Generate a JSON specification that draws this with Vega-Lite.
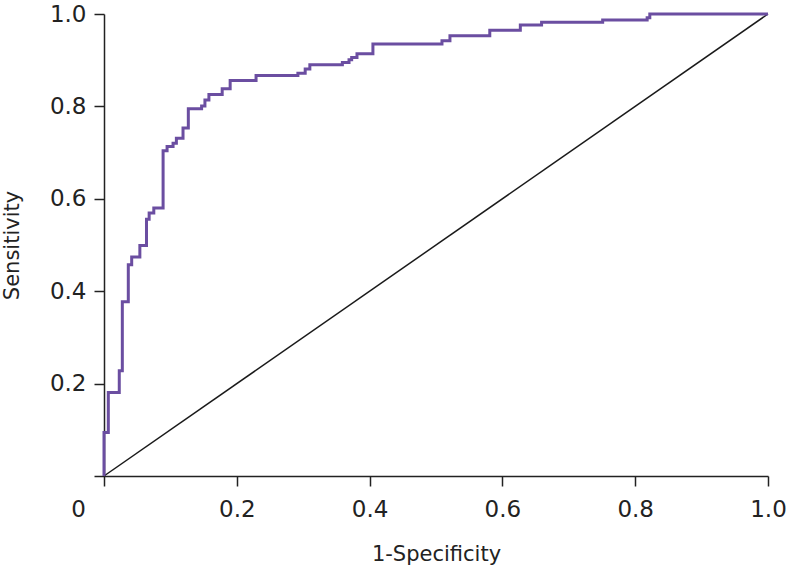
{
  "$schema": "https://vega.github.io/schema/vega-lite/v6.json",
  "autosize": "none",
  "padding": {"left": 104, "top": 14, "right": 20, "bottom": 95},
  "width": 664,
  "height": 462,
  "background": "white",
  "config": {
    "view": {"stroke": null},
    "axis": {
      "grid": false,
      "domainColor": "#222222",
      "domainWidth": 1.5,
      "tickColor": "#222222",
      "tickWidth": 1.5,
      "tickSize": 10,
      "labelFont": "DejaVu Sans",
      "labelFontSize": 23,
      "labelColor": "#222222",
      "titleFont": "DejaVu Sans",
      "titleFontSize": 21,
      "titleFontWeight": "normal",
      "titleColor": "#222222"
    }
  },
  "datasets": {
    "roc": [
      {"fpr": 0, "tpr": 0},
      {"fpr": 0, "tpr": 0.094},
      {"fpr": 0.0065, "tpr": 0.094},
      {"fpr": 0.0065, "tpr": 0.181},
      {"fpr": 0.023, "tpr": 0.181},
      {"fpr": 0.023, "tpr": 0.228},
      {"fpr": 0.0276, "tpr": 0.228},
      {"fpr": 0.0276, "tpr": 0.377},
      {"fpr": 0.0366, "tpr": 0.377},
      {"fpr": 0.0366, "tpr": 0.457},
      {"fpr": 0.0417, "tpr": 0.457},
      {"fpr": 0.0417, "tpr": 0.474},
      {"fpr": 0.054, "tpr": 0.474},
      {"fpr": 0.054, "tpr": 0.499},
      {"fpr": 0.064, "tpr": 0.499},
      {"fpr": 0.064, "tpr": 0.556},
      {"fpr": 0.068, "tpr": 0.556},
      {"fpr": 0.068, "tpr": 0.569},
      {"fpr": 0.075, "tpr": 0.569},
      {"fpr": 0.075, "tpr": 0.58},
      {"fpr": 0.089, "tpr": 0.58},
      {"fpr": 0.089, "tpr": 0.704},
      {"fpr": 0.095, "tpr": 0.704},
      {"fpr": 0.095, "tpr": 0.713},
      {"fpr": 0.104, "tpr": 0.713},
      {"fpr": 0.104, "tpr": 0.72},
      {"fpr": 0.109, "tpr": 0.72},
      {"fpr": 0.109, "tpr": 0.731},
      {"fpr": 0.119, "tpr": 0.731},
      {"fpr": 0.119, "tpr": 0.753},
      {"fpr": 0.127, "tpr": 0.753},
      {"fpr": 0.127, "tpr": 0.795},
      {"fpr": 0.147, "tpr": 0.795},
      {"fpr": 0.147, "tpr": 0.801},
      {"fpr": 0.152, "tpr": 0.801},
      {"fpr": 0.152, "tpr": 0.814},
      {"fpr": 0.158, "tpr": 0.814},
      {"fpr": 0.158, "tpr": 0.826},
      {"fpr": 0.178, "tpr": 0.826},
      {"fpr": 0.178, "tpr": 0.838},
      {"fpr": 0.19, "tpr": 0.838},
      {"fpr": 0.19, "tpr": 0.856},
      {"fpr": 0.229, "tpr": 0.856},
      {"fpr": 0.229, "tpr": 0.867},
      {"fpr": 0.292, "tpr": 0.867},
      {"fpr": 0.292, "tpr": 0.872},
      {"fpr": 0.303, "tpr": 0.872},
      {"fpr": 0.303, "tpr": 0.881},
      {"fpr": 0.31, "tpr": 0.881},
      {"fpr": 0.31, "tpr": 0.89},
      {"fpr": 0.359, "tpr": 0.89},
      {"fpr": 0.359, "tpr": 0.895},
      {"fpr": 0.369, "tpr": 0.895},
      {"fpr": 0.369, "tpr": 0.901},
      {"fpr": 0.373, "tpr": 0.901},
      {"fpr": 0.373, "tpr": 0.906},
      {"fpr": 0.381, "tpr": 0.906},
      {"fpr": 0.381, "tpr": 0.914},
      {"fpr": 0.405, "tpr": 0.914},
      {"fpr": 0.405, "tpr": 0.935},
      {"fpr": 0.509, "tpr": 0.935},
      {"fpr": 0.509, "tpr": 0.942},
      {"fpr": 0.521, "tpr": 0.942},
      {"fpr": 0.521, "tpr": 0.953},
      {"fpr": 0.581, "tpr": 0.953},
      {"fpr": 0.581, "tpr": 0.965},
      {"fpr": 0.627, "tpr": 0.965},
      {"fpr": 0.627, "tpr": 0.976},
      {"fpr": 0.659, "tpr": 0.976},
      {"fpr": 0.659, "tpr": 0.982},
      {"fpr": 0.751, "tpr": 0.982},
      {"fpr": 0.751, "tpr": 0.987},
      {"fpr": 0.818, "tpr": 0.987},
      {"fpr": 0.818, "tpr": 0.992},
      {"fpr": 0.822, "tpr": 0.992},
      {"fpr": 0.822, "tpr": 1.0},
      {"fpr": 1.0, "tpr": 1.0}
    ],
    "ref": [
      {"fpr": 0, "tpr": 0},
      {"fpr": 1, "tpr": 1}
    ]
  },
  "encoding": {
    "x": {
      "field": "fpr",
      "type": "quantitative",
      "scale": {"domain": [0, 1], "nice": false, "zero": false},
      "axis": {
        "title": "1-Specificity",
        "values": [0, 0.2, 0.4, 0.6, 0.8, 1.0],
        "labelExpr": "datum.value == 0 ? '0' : format(datum.value, '.1f')",
        "labelFlush": false,
        "labelOffset": {"condition": {"test": "datum.value == 0", "value": -26}, "value": 0},
        "labelPadding": 12,
        "titlePadding": 22
      }
    },
    "y": {
      "field": "tpr",
      "type": "quantitative",
      "scale": {"domain": [0, 1], "nice": false, "zero": false},
      "axis": {
        "title": "Sensitivity",
        "values": [0, 0.2, 0.4, 0.6, 0.8, 1.0],
        "labelExpr": "datum.value == 0 ? '' : format(datum.value, '.1f')",
        "labelFlush": false,
        "labelPadding": 8,
        "titlePadding": 27
      }
    }
  },
  "layer": [
    {
      "data": {"name": "ref"},
      "mark": {"type": "line", "color": "#1a1a1a", "strokeWidth": 1.5, "clip": false}
    },
    {
      "data": {"name": "roc"},
      "mark": {"type": "line", "color": "#6b4ea1", "strokeWidth": 3, "clip": false}
    }
  ]
}
